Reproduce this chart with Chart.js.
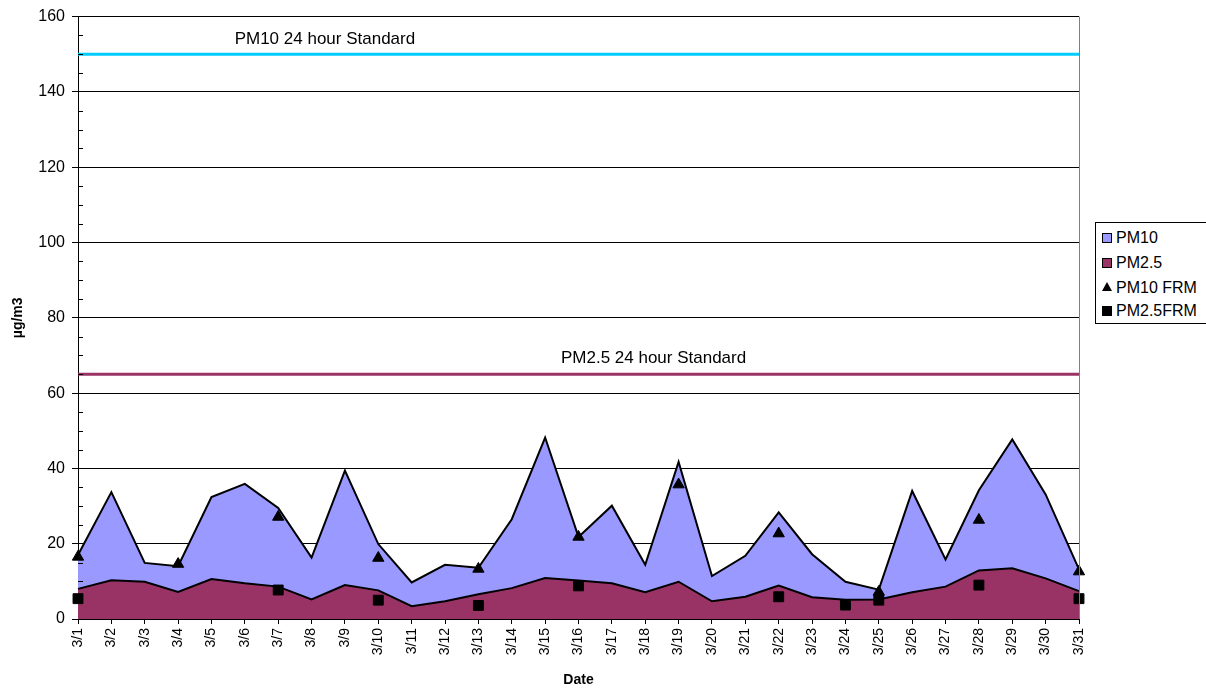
<!DOCTYPE html>
<html>
<head>
<meta charset="utf-8">
<script src="https://cdn.jsdelivr.net/npm/chart.js@4.4.0/dist/chart.umd.min.js"></script>
<style>
    html, body { margin: 0; padding: 0; background: #ffffff; }
    #wrap { position: relative; width: 1206px; height: 689px; }
    #legend {
        position: absolute; left: 1095px; top: 222px; width: 120px; height: 100px;
        border: 1px solid #000; background: #fff;
        font-family: "Liberation Sans", Arial, sans-serif; font-size: 16px; color: #000;
    }
    #legend .row { position: absolute; left: 6px; height: 20px; line-height: 20px; white-space: nowrap; }
    #legend .sw { display: inline-block; width: 10px; height: 10px; box-sizing: border-box; vertical-align: middle; margin-right: 4px; position: relative; top: -1px; }
    #legend .tri { display: inline-block; width: 0; height: 0; border-left: 5px solid transparent; border-right: 5px solid transparent; border-bottom: 9px solid #000; vertical-align: middle; margin-right: 4px; position: relative; top: -2px; }
</style>
</head>
<body>
<div id="wrap">
    <canvas id="pmChart" width="1206" height="689"></canvas>
    <div id="legend">
        <div class="row" style="top:5px"><span class="sw" style="background:#9999FF;border:1px solid #000"></span>PM10</div>
        <div class="row" style="top:30px"><span class="sw" style="background:#993366;border:1px solid #000"></span>PM2.5</div>
        <div class="row" style="top:55px"><span class="tri"></span>PM10 FRM</div>
        <div class="row" style="top:78px"><span class="sw" style="background:#000"></span>PM2.5FRM</div>
    </div>
</div>
<script>
// Daily values, March
const dates = ['3/1', '3/2', '3/3', '3/4', '3/5', '3/6', '3/7', '3/8', '3/9', '3/10',
    '3/11', '3/12', '3/13', '3/14', '3/15', '3/16', '3/17', '3/18', '3/19', '3/20',
    '3/21', '3/22', '3/23', '3/24', '3/25', '3/26', '3/27', '3/28', '3/29', '3/30', '3/31'];

const pm10 = [17.0, 33.7, 14.9, 14.0, 32.4, 35.9, 29.5, 16.3, 39.4, 19.9,
    9.7, 14.4, 13.6, 26.5, 48.2, 21.8, 30.1, 14.4, 41.7, 11.4,
    16.8, 28.3, 17.2, 9.9, 7.8, 34.0, 15.8, 34.2, 47.7, 33.1, 13.2];

const pm25 = [8.0, 10.3, 9.9, 7.2, 10.6, 9.5, 8.6, 5.2, 9.0, 7.6,
    3.4, 4.7, 6.6, 8.2, 10.9, 10.2, 9.5, 7.1, 9.9, 4.7,
    5.9, 8.9, 5.8, 5.1, 5.2, 7.1, 8.6, 12.9, 13.5, 10.8, 7.4];

const pm10Frm = [16.5, null, null, 14.6, null, null, 27.1, null, null, 16.2,
    null, null, 13.3, null, null, 21.8, null, null, 35.7, null,
    null, 22.7, null, null, 7.2, null, null, 26.3, null, null, 12.6];

const pm25Frm = [5.4, null, null, null, null, null, 7.7, null, null, 5.0,
    null, null, 3.6, null, null, 8.8, null, null, null, null,
    null, 5.9, null, 3.7, 5.0, null, null, 9.0, null, null, 5.4];

const pm10Standard = 150;
const pm25Standard = 65;

const FONT = '"Liberation Sans", Arial, sans-serif';

// Minor ticks (inside), right frame line and standard captions
const decorPlugin = {
    id: 'decor',
    afterDraw(chart) {
        const { ctx, chartArea } = chart;
        const y = chart.scales.y;
        const x = chart.scales.x;
        ctx.save();
        ctx.strokeStyle = '#000';
        ctx.lineWidth = 1;
        for (let v = 5; v < 160; v += 5) {
            if (v % 20 === 0) continue;
            const py = Math.round(y.getPixelForValue(v)) + 0.5;
            ctx.beginPath();
            ctx.moveTo(chartArea.left, py);
            ctx.lineTo(chartArea.left + 5, py);
            ctx.stroke();
        }
        ctx.strokeStyle = '#808080';
        ctx.beginPath();
        ctx.moveTo(chartArea.right + 0.5, chartArea.top);
        ctx.lineTo(chartArea.right + 0.5, chartArea.bottom);
        ctx.stroke();

        ctx.fillStyle = '#000';
        ctx.font = '17px ' + FONT;
        ctx.textAlign = 'center';
        ctx.textBaseline = 'middle';
        ctx.fillText('PM10 24 hour Standard', x.getPixelForValue(7.4), y.getPixelForValue(pm10Standard) - 15);
        ctx.fillText('PM2.5 24 hour Standard', x.getPixelForValue(17.25), y.getPixelForValue(pm25Standard) - 16);
        ctx.restore();
    }
};

function initChart() {
    const ctx = document.getElementById('pmChart');
    const first = dates[0];
    const last = dates[dates.length - 1];

    new Chart(ctx, {
        type: 'line',
        data: {
            labels: dates,
            datasets: [
                {
                    label: 'PM10 FRM',
                    data: pm10Frm,
                    showLine: false,
                    pointStyle: 'triangle',
                    pointRadius: 6.5,
                    pointBackgroundColor: '#000',
                    pointBorderColor: '#000',
                    order: 0
                },
                {
                    label: 'PM2.5FRM',
                    data: pm25Frm,
                    showLine: false,
                    pointStyle: 'rect',
                    pointRadius: 7,
                    pointBackgroundColor: '#000',
                    pointBorderColor: '#000',
                    order: 0
                },
                {
                    label: 'PM2.5',
                    data: pm25,
                    borderColor: '#000',
                    borderWidth: 2,
                    backgroundColor: '#993366',
                    fill: 'origin',
                    pointRadius: 0,
                    tension: 0,
                    order: 1
                },
                {
                    label: 'PM10',
                    data: pm10,
                    borderColor: '#000',
                    borderWidth: 2,
                    backgroundColor: '#9999FF',
                    fill: 'origin',
                    pointRadius: 0,
                    tension: 0,
                    order: 2
                },
                {
                    label: 'PM10 24 hour Standard',
                    data: [{ x: first, y: pm10Standard }, { x: last, y: pm10Standard }],
                    borderColor: '#00CCFF',
                    borderWidth: 3,
                    pointRadius: 0,
                    fill: false,
                    order: 3
                },
                {
                    label: 'PM2.5 24 hour Standard',
                    data: [{ x: first, y: pm25Standard }, { x: last, y: pm25Standard }],
                    borderColor: '#993366',
                    borderWidth: 3,
                    pointRadius: 0,
                    fill: false,
                    order: 3
                }
            ]
        },
        options: {
            responsive: false,
            animation: false,
            layout: {
                padding: { left: 0, top: 16, right: 127, bottom: 0 }
            },
            plugins: {
                legend: { display: false },
                tooltip: { enabled: false },
                filler: { drawTime: 'beforeDatasetDraw' }
            },
            scales: {
                x: {
                    offset: false,
                    grid: {
                        drawOnChartArea: false,
                        tickLength: 5,
                        tickColor: '#000'
                    },
                    border: { color: '#000', width: 1 },
                    ticks: {
                        autoSkip: false,
                        minRotation: 90,
                        maxRotation: 90,
                        padding: 4,
                        color: '#000',
                        font: { family: FONT, size: 14 }
                    },
                    title: {
                        display: true,
                        text: 'Date',
                        color: '#000',
                        font: { family: FONT, size: 14, weight: 'bold' },
                        padding: { top: 0, bottom: 0 }
                    },
                    afterFit: function (scale) { scale.height = 70; }
                },
                y: {
                    min: 0,
                    max: 160,
                    ticks: {
                        stepSize: 20,
                        padding: 7,
                        color: '#000',
                        font: { family: FONT, size: 16 }
                    },
                    grid: {
                        color: '#000',
                        lineWidth: 1,
                        tickLength: 6,
                        tickColor: '#000'
                    },
                    border: { color: '#000', width: 1 },
                    title: {
                        display: true,
                        text: 'µg/m3',
                        color: '#000',
                        font: { family: FONT, size: 14, weight: 'bold' },
                        padding: { top: 10, bottom: 0 }
                    },
                    afterFit: function (scale) { scale.width = 78; }
                }
            }
        },
        plugins: [decorPlugin]
    });
}

initChart();
</script>
</body>
</html>
